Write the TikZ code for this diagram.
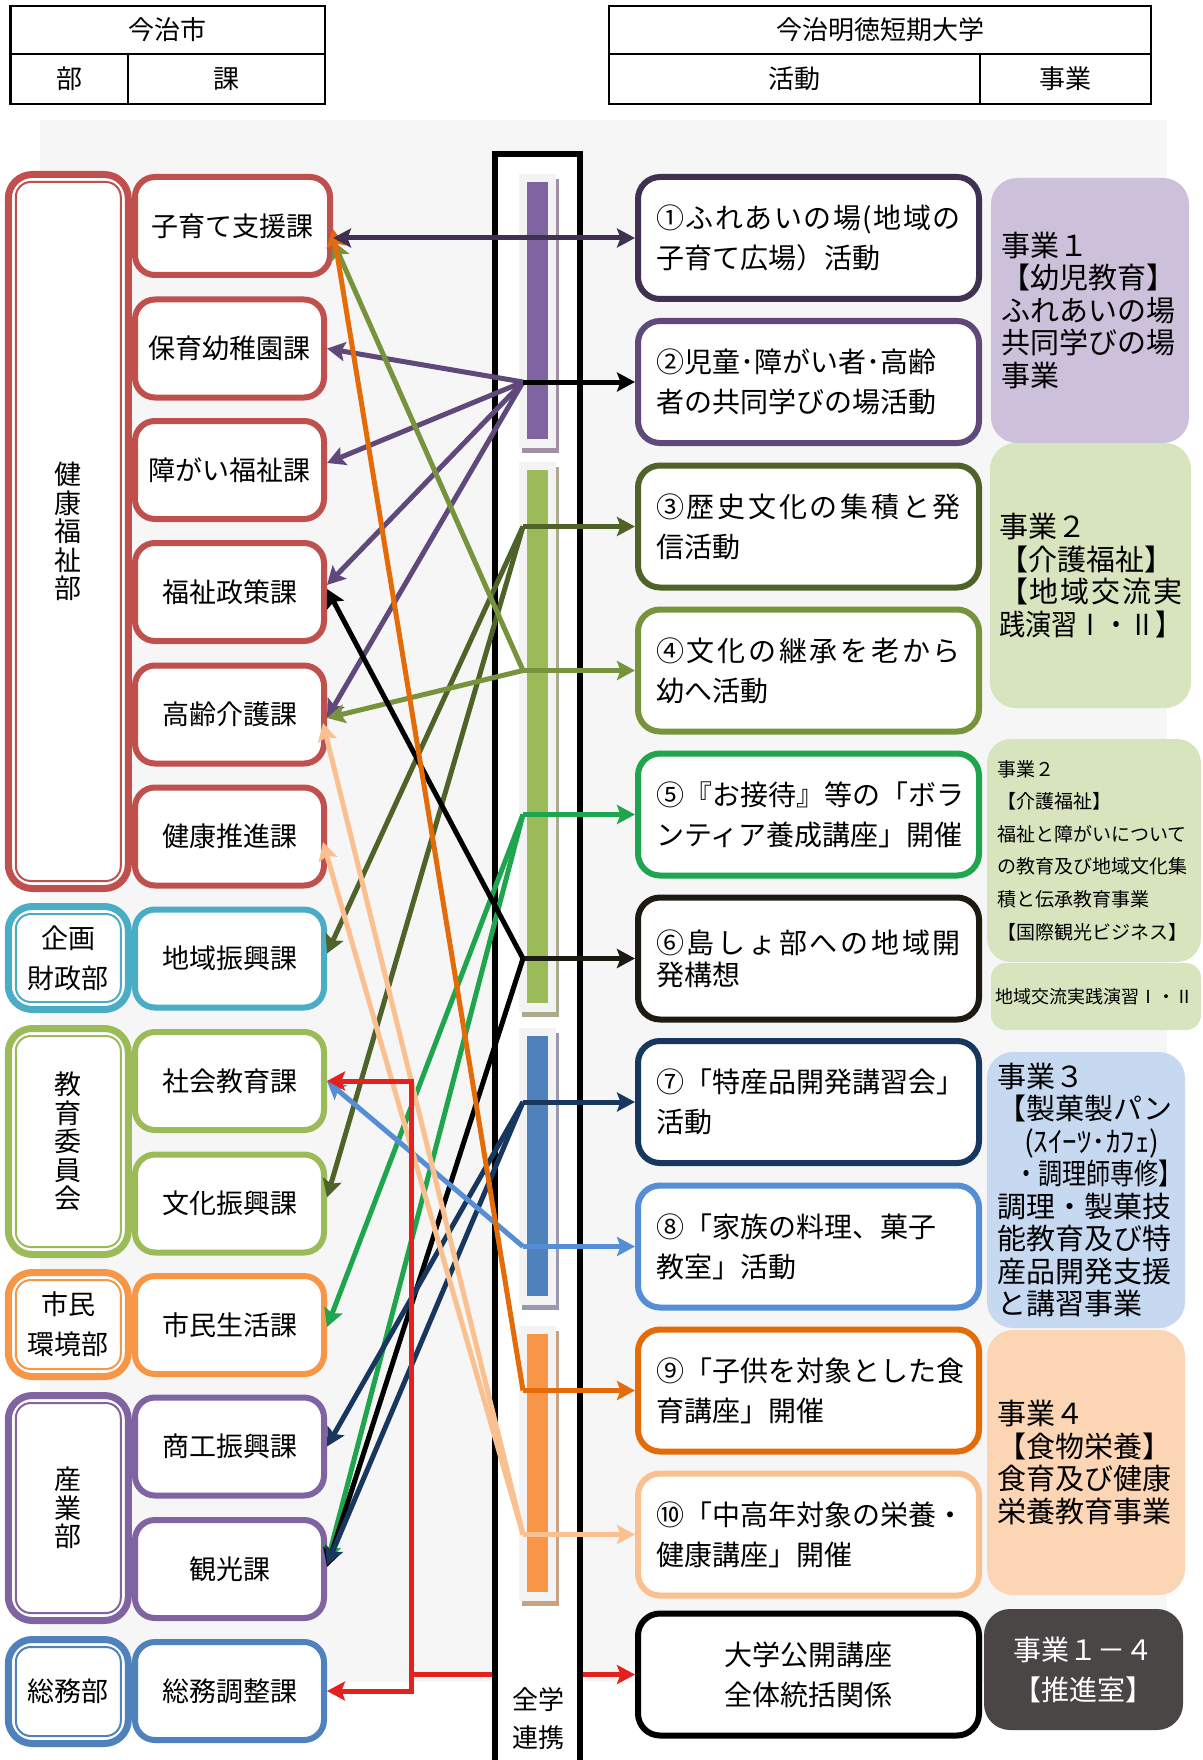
\documentclass[tikz,border=0pt]{standalone}
\usepackage{fontspec}
\usepackage{graphicx}
\setmainfont{Noto Sans CJK JP}
\usetikzlibrary{arrows.meta}
\makeatletter
\def\jst#1#2{\makebox[#1][s]{\jst@a#2\jst@end}}
\def\jst@end{}
\def\jst@a#1#2{#1\ifx\jst@end#2\else\hfill\expandafter\jst@a\expandafter#2\fi}
\makeatother
\definecolor{cRed}{HTML}{C0504D}
\definecolor{cTeal}{HTML}{4BACC6}
\definecolor{cLime}{HTML}{9BBB59}
\definecolor{cOrg}{HTML}{F79646}
\definecolor{cPur}{HTML}{8064A2}
\definecolor{cBlu}{HTML}{4F81BD}
\definecolor{sPur}{HTML}{A08FA2}
\definecolor{sLime}{HTML}{ABAA8C}
\definecolor{sBlu}{HTML}{9A98AE}
\definecolor{sOrg}{HTML}{C8A283}
\definecolor{frameGray}{HTML}{F3F3F3}
\definecolor{colAa}{HTML}{403152}
\definecolor{colAb}{HTML}{5F497A}
\definecolor{colAc}{HTML}{4F6228}
\definecolor{colAd}{HTML}{77933C}
\definecolor{colAe}{HTML}{1EA54E}
\definecolor{colAf}{HTML}{1D1B11}
\definecolor{colAg}{HTML}{17375E}
\definecolor{colAh}{HTML}{558ED5}
\definecolor{colAi}{HTML}{E36C09}
\definecolor{colAj}{HTML}{FAC090}
\definecolor{colRed}{HTML}{E5211F}
\definecolor{colJa}{HTML}{CCC0DA}
\definecolor{colJb}{HTML}{D7E4BD}
\definecolor{colJc}{HTML}{C6D9F1}
\definecolor{colJd}{HTML}{FCD5B5}
\definecolor{colJe}{HTML}{4A4646}
\definecolor{bgGray}{HTML}{F6F6F6}
\tikzset{
  hcell/.style={draw, line width=2.5pt, inner sep=0pt, font=\fontsize{26}{30}\selectfont},
  dept/.style={draw=#1, line width=7pt, rounded corners=24pt, fill=white, inner sep=0pt,
    minimum width=120pt, align=center, font=\fontsize{27}{28.5}\selectfont},
  deptin/.style={draw=#1, line width=2pt, rounded corners=15pt},
  sec/.style={draw=#1, line width=6pt, rounded corners=20pt, fill=white, inner sep=0pt,
    minimum width=189pt, minimum height=98pt, font=\fontsize{27}{30}\selectfont},
  act/.style={draw=#1, line width=6pt, rounded corners=22pt, fill=white, inner sep=0pt,
    minimum width=341pt, minimum height=122pt, text width=305pt, align=left,
    font=\fontsize{28}{40}\selectfont},
  jig/.style={fill=#1, rounded corners=26pt, inner sep=0pt, align=left,
    font=\fontsize{29}{32.5}\selectfont},
  link/.style={line width=5pt, -{Stealth[length=18pt,width=19pt,inset=3.5pt]}},
  linkb/.style={line width=5pt, {Stealth[length=18pt,width=19pt,inset=3.5pt]}-{Stealth[length=18pt,width=19pt,inset=3.5pt]}},
}
\begin{document}
\begin{tikzpicture}[x=1pt,y=-1pt]
\useasboundingbox (0,0) rectangle (1202,1760);
% header tables
\node[hcell, minimum width=314.3pt, minimum height=48pt] (h1) at (167.85,30) {今治市};
\node[hcell, minimum width=117.3pt, minimum height=50pt] (h2) at (69.35,79) {部};
\node[hcell, minimum width=197pt, minimum height=50pt] (h3) at (226.5,79) {課};
\node[hcell, minimum width=542pt, minimum height=48pt] (h4) at (880,30) {今治明徳短期大学};
\node[hcell, minimum width=371pt, minimum height=50pt] (h5) at (794.5,79) {活動};
\node[hcell, minimum width=171pt, minimum height=50pt] (h6) at (1065.5,79) {事業};
% background
\fill[bgGray] (40,120) rectangle (1167,1682);
% central column
\node[draw, line width=6pt, fill=white, minimum width=85pt, minimum height=1640pt, inner sep=0pt] (col) at (537.5,974) {};
\node[align=center, inner sep=0pt, font=\fontsize{26}{38}\selectfont] (colt) at (538,1719) {全学\\連携};
\foreach \t/\b/\c/\s in {182/439/cPur/sPur, 470/1003/cLime/sLime, 1036/1296/cBlu/sBlu, 1334/1592/cOrg/sOrg} {
  \fill[\s] (522,{\t-3}) rectangle (559,{\b+14});
  \fill[frameGray] (519,{\t-8}) rectangle (556,{\b+9});
  \fill[\c] (527,\t) rectangle (548,\b);
}
% departments
\node[dept=cRed, minimum height=714pt] (d1) at (68.3,531.5) {健\\康\\福\\祉\\部};
\node[dept=cTeal, minimum height=103pt, font=\fontsize{27}{40}\selectfont] (d2) at (68.3,958) {企画\\財政部};
\node[dept=cLime, minimum height=226pt] (d3) at (68.3,1141.5) {教\\育\\委\\員\\会};
\node[dept=cOrg, minimum height=104pt, font=\fontsize{27}{40}\selectfont] (d4) at (68.3,1324.5) {市民\\環境部};
\node[dept=cPur, minimum height=225pt] (d5) at (68.3,1508) {産\\業\\部};
\node[dept=cBlu, minimum height=104pt] (d6) at (68.3,1691.5) {総務部};
\foreach \d/\c in {d1/cRed, d2/cTeal, d3/cLime, d4/cOrg, d5/cPur, d6/cBlu}
  \draw[deptin=\c] ([shift={(11pt,-11pt)}]\d.north west) rectangle ([shift={(-11pt,11pt)}]\d.south east);
% sections
\node[sec=cRed, minimum width=195pt] (s1) at (232.5,226) {子育て支援課};
\node[sec=cRed] (s2) at (229.5,348.5) {保育幼稚園課};
\node[sec=cRed] (s3) at (229.5,470) {障がい福祉課};
\node[sec=cRed] (s4) at (229.5,592) {福祉政策課};
\node[sec=cRed] (s5) at (229.5,714.5) {高齢介護課};
\node[sec=cRed] (s6) at (229.5,836.5) {健康推進課};
\node[sec=cTeal] (s7) at (229.5,958.5) {地域振興課};
\node[sec=cLime] (s8) at (229.5,1081) {社会教育課};
\node[sec=cLime] (s9) at (229.5,1203.5) {文化振興課};
\node[sec=cOrg] (s10) at (229.5,1325) {市民生活課};
\node[sec=cPur] (s11) at (229.5,1446.5) {商工振興課};
\node[sec=cPur] (s12) at (229.5,1569) {観光課};
\node[sec=cBlu] (s13) at (229.5,1691) {総務調整課};
% activities
\node[act=colAa] (t1) at (808.5,238) {\jst{305pt}{①ふれあいの場(地域の}\\子育て広場）活動};
\node[act=colAb] (t2) at (808.5,382) {②児童･障がい者･高齢\\者の共同学びの場活動};
\node[act=colAc] (t3) at (808.5,526.5) {\jst{305pt}{③歴史文化の集積と発}\\信活動};
\node[act=colAd] (t4) at (808.5,670.5) {\jst{305pt}{④文化の継承を老から}\\幼へ活動};
\node[act=colAe] (t5) at (808.5,814.5) {⑤『お接待』等の「ボラ\\ンティア養成講座」開催};
\node[act=colAf, font=\fontsize{28}{32}\selectfont] (t6) at (808.5,958.5) {\jst{305pt}{⑥島しょ部への地域開}\\発構想};
\node[act=colAg] (t7) at (808.5,1102) {⑦「特産品開発講習会」\\活動};
\node[act=colAh] (t8) at (808.5,1246.5) {⑧「家族の料理、菓子\\教室」活動};
\node[act=colAi] (t9) at (808.5,1390.5) {⑨「子供を対象とした食\\育講座」開催};
\node[act=colAj] (t10) at (808.5,1534.5) {⑩「中高年対象の栄養・\\健康講座」開催};
\node[act=black, align=center] (t11) at (808.5,1674.5) {大学公開講座\\全体統括関係};
% projects
\node[jig=colJa, minimum width=198pt, minimum height=265pt, text width=178pt] (k1) at (1090,310.5)
  {事業１\\【幼児教育】\\ふれあいの場\\共同学びの場\\事業};
\node[jig=colJb, minimum width=201pt, minimum height=265pt, text width=183pt] (k2) at (1090.5,575.5)
  {事業２\\【介護福祉】\\\jst{183pt}{【地域交流実}\\\scalebox{0.9}[1]{践演習Ⅰ・Ⅱ】}};
\node[jig=colJb, minimum width=214pt, minimum height=223pt, text width=194pt, rounded corners=24pt,
  font=\fontsize{19}{32.6}\selectfont] (k3) at (1094,850.5)
  {事業２\\【介護福祉】\\福祉と障がいについて\\の教育及び地域文化集\\積と伝承教育事業\\【国際観光ビジネス】};
\node[jig=colJb, minimum width=210pt, minimum height=67pt, text width=202pt, rounded corners=15pt,
  font=\fontsize{18}{22}\selectfont] (k4) at (1096,996.5) {地域交流実践演習Ⅰ・Ⅱ};
\node[jig=colJc, minimum width=198pt, minimum height=276pt, text width=178pt] (k5) at (1086,1190)
  {事業３\\【製菓製パン\\\hspace*{27pt}(ｽｲｰﾂ･ｶﾌｪ)\\\hspace*{17pt}\scalebox{0.83}[1]{・調理師専修】}\\調理・製菓技\\能教育及び特\\産品開発支援\\と講習事業};
\node[jig=colJd, minimum width=198pt, minimum height=265pt, text width=178pt] (k6) at (1086,1462.5)
  {事業４\\【食物栄養】\\食育及び健康\\栄養教育事業};
\node[jig=colJe, minimum width=199pt, minimum height=121pt, text width=180pt, align=center,
  text=white, font=\fontsize{28}{40}\selectfont] (k7) at (1083.5,1669.5) {事業１－４\\【推進室】};
% junctions
\coordinate (p2) at (523,382);
\coordinate (p3) at (523,526.5);
\coordinate (p4) at (523,670.5);
\coordinate (p5) at (523,814.5);
\coordinate (p6) at (523,958.5);
\coordinate (p7) at (523,1102);
\coordinate (p8) at (523,1246.5);
\coordinate (p9) at (523,1390.5);
\coordinate (p10) at (523,1534.5);
\coordinate (rj) at (411,1674.5);
% connectors
\draw[link, colAb] (p2) -- (s2.east);
\draw[link, colAb] (p2) -- ([yshift=7pt]s3.east);
\draw[link, colAb] (p2) -- ([yshift=7pt]s4.east);
\draw[link, colAb] (p2) -- ([yshift=-3.5pt]s5.east);
\draw[link, black] (p2) -- (t2.west);
\draw[link, colAc] (p3) -- (t3.west);
\draw[link, colAc] (p3) -- ([yshift=5pt]s7.east);
\draw[link, colAc] (p3) -- ([yshift=6pt]s9.east);
\draw[link, colAd] (p4) -- (t4.west);
\draw[link, colAd] (p4) -- ([yshift=-3.5pt]s5.east);
\draw[link, colAd] (p4) -- ([yshift=-15pt]s1.east);
\draw[link, colAe] (p5) -- (t5.west);
\draw[link, colAe] (p5) -- ([yshift=-2pt]s10.east);
\draw[link, colAe] (p5) -- ([yshift=6pt]s12.east);
\draw[link, colAf] (p6) -- (t6.west);
\draw[link, black] (p6) -- ([yshift=3pt]s4.east);
\draw[link, black] (p6) -- ([yshift=2pt]s12.east);
\draw[link, colAg] (p7) -- (t7.west);
\draw[link, colAg] (p7) -- (s11.east);
\draw[link, colAg] (p7) -- ([yshift=4pt]s12.east);
\draw[link, colAh] (p8) -- (t8.west);
\draw[link, colAh] (p8) -- (s8.east);
\draw[link, colAi] (p9) -- (t9.west);
\draw[link, colAi] (p9) -- ([yshift=-3pt]s1.east);
\draw[link, colAj] (p10) -- (t10.west);
\draw[link, colAj] (p10) -- ([xshift=-4pt,yshift=-8.5pt]s5.east);
\draw[link, colAj] (p10) -- ([xshift=-4pt,yshift=-5.5pt]s6.east);
\draw[linkb, colAa] (s1.east |- t1.west) -- (t1.west);
\draw[link, colRed] (rj) |- (s8.east);
\draw[link, colRed] (rj) |- (s13.east);
\draw[colRed, line width=5pt] (rj) -- (rj -| col.west);
\draw[link, colRed] (col.east |- t11.west) -- (t11.west);
\end{tikzpicture}
\end{document}
